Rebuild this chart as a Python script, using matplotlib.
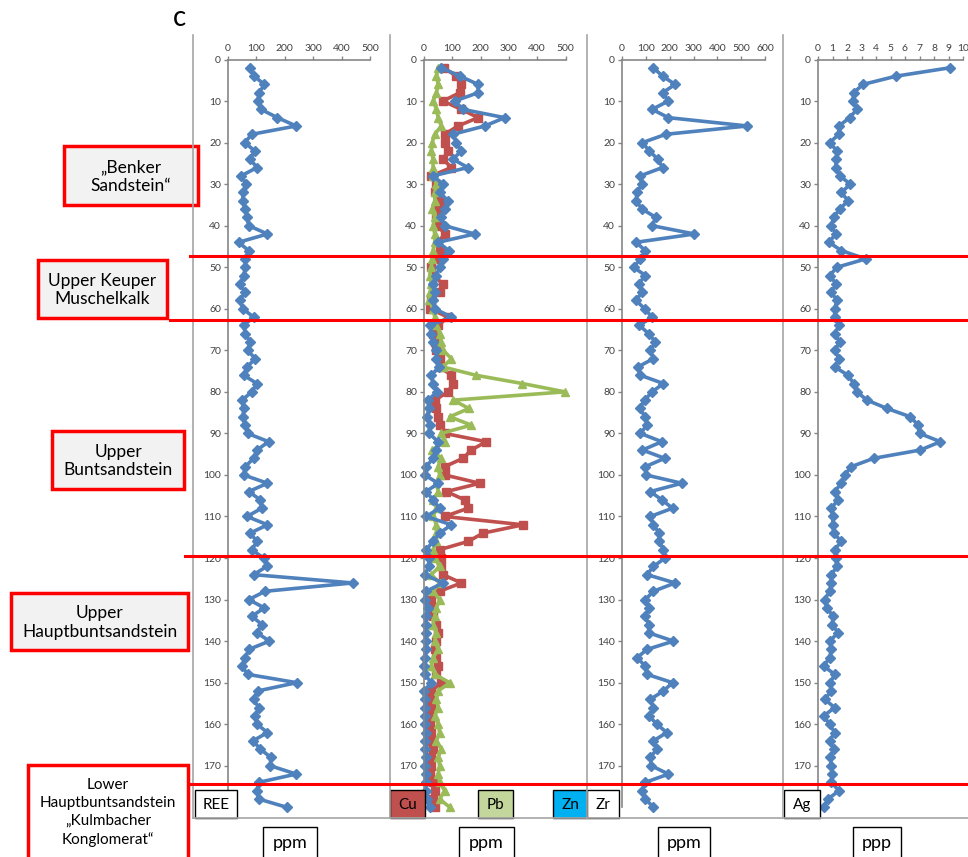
import numpy as np
import matplotlib.pyplot as plt
from matplotlib.patches import Rectangle
from matplotlib.transforms import blended_transform_factory

plt.rcParams['font.family'] = ['Lato', 'DejaVu Sans']

# depth in m, one sample every 2 m
depth = np.arange(2, 182, 2)

ree = [76, 92, 128, 110, 105, 116, 174, 240, 84, 59, 94, 78, 102, 47, 64, 53, 52, 61, 67, 73,
       139, 37, 73, 61, 61, 55, 43, 59, 43, 52, 90, 55, 61, 78, 69, 96, 67, 55, 102, 84,
       49, 55, 53, 61, 69, 143, 102, 90, 61, 55, 139, 73, 114, 119, 67, 139, 78, 102, 84, 125,
       137, 90, 439, 131, 73, 128, 84, 119, 102, 146, 73, 61, 49, 69, 242, 104, 90, 108, 96, 102,
       139, 88, 114, 151, 149, 240, 108, 102, 108, 207]

cu = [70, 114, 132, 126, 67, 132, 191, 120, 73, 73, 85, 67, 97, 26, 44, 38, 55, 50, 44, 50,
      73, 50, 55, 38, 26, 32, 67, 55, 26, 20, 85, 50, 32, 38, 44, 55, 55, 97, 103, 85,
      38, 44, 50, 55, 73, 220, 167, 138, 73, 73, 197, 79, 144, 156, 73, 350, 209, 156, 55, 61,
      61, 67, 132, 55, 26, 26, 32, 44, 50, 44, 38, 44, 50, 44, 61, 26, 20, 26, 20, 20,
      26, 20, 32, 26, 26, 20, 32, 38, 32, 38]

pb = [50, 44, 50, 44, 32, 44, 50, 61, 38, 29, 26, 32, 32, 32, 44, 38, 38, 29, 38, 32,
      38, 38, 32, 29, 26, 20, 26, 22, 18, 32, 38, 44, 55, 61, 67, 97, 67, 183, 348, 498,
      103, 159, 91, 167, 61, 73, 29, 61, 50, 55, 44, 50, 32, 44, 32, 44, 44, 44, 32, 38,
      55, 26, 55, 32, 55, 44, 38, 32, 44, 38, 50, 32, 26, 38, 91, 50, 44, 50, 38, 50,
      55, 44, 61, 50, 55, 50, 55, 73, 55, 91]

zn = [61, 127, 191, 191, 109, 137, 285, 215, 102, 114, 132, 102, 155, 32, 67, 55, 85, 73, 61, 73,
      179, 50, 88, 67, 55, 44, 32, 38, 32, 38, 97, 20, 26, 32, 44, 44, 53, 26, 32, 46,
      14, 18, 11, 20, 18, 50, 44, 32, 8, 2, 50, 8, 32, 55, 8, 97, 55, 32, 8, 18,
      18, 2, 67, 8, 2, 14, 8, 6, 8, 6, 6, 2, 0, 2, 26, 0, 2, 4, 4, 2,
      6, 4, 2, 8, 4, 6, 6, 8, 12, 20]

zr = [132, 170, 223, 170, 195, 126, 195, 526, 184, 86, 114, 151, 170, 77, 84, 63, 59, 84, 142, 126,
      304, 59, 98, 77, 49, 98, 70, 84, 59, 95, 126, 73, 112, 140, 119, 132, 67, 77, 174, 126,
      95, 74, 98, 105, 77, 167, 86, 179, 98, 100, 251, 119, 167, 212, 119, 132, 156, 156, 174, 181,
      132, 105, 223, 132, 98, 112, 98, 112, 112, 216, 105, 63, 98, 105, 212, 174, 119, 132, 114, 146,
      188, 132, 146, 119, 123, 195, 98, 84, 98, 132]

ag = [9.08, 5.4, 3.1, 2.46, 2.41, 2.69, 2.18, 1.45, 1.45, 0.8, 1.31, 1.26, 1.22, 1.5, 2.23, 1.61, 2.07, 1.5, 1.08, 0.92,
      1.22, 0.76, 1.61, 3.29, 1.31, 0.8, 1.26, 0.92, 1.31, 1.15, 1.15, 1.45, 1.15, 1.5, 1.15, 1.45, 1.15, 2.07, 2.46, 2.69,
      3.38, 4.76, 6.37, 6.9, 7.0, 8.44, 7.06, 3.84, 2.3, 1.84, 1.61, 1.15, 1.38, 0.92, 1.03, 1.03, 1.08, 1.61, 1.15, 1.22,
      1.31, 0.92, 0.92, 0.8, 0.46, 0.62, 1.03, 0.99, 1.38, 0.8, 0.92, 0.8, 0.39, 1.15, 0.85, 0.92, 0.46, 1.15, 0.39, 0.8,
      1.15, 0.8, 1.08, 0.85, 0.92, 0.99, 0.92, 1.45, 0.69, 0.39]

# unit boundaries (depth, m)
boundaries = [47.2, 62.6, 119.5, 174.5]

units = ['\u201eBenker\nSandstein\u201c', 'Upper Keuper\nMuschelkalk', 'Upper\nBuntsandstein',
         'Upper\nHauptbuntsandstein',
         'Lower\nHauptbuntsandstein\n\u201eKulmbacher\nKonglomerat\u201c']

BLUE = '#4F81BD'
RED = '#C0504D'
GREEN = '#9BBB59'
GREY = '#868686'

W, H = 968, 857
fig = plt.figure(figsize=(W / 100, H / 100), dpi=100)


def px_axes(x0, y0, w, h):
    return fig.add_axes([x0 / W, 1 - (y0 + h) / H, w / W, h / H])


top, bottom = 59.5, 807.3
panels = [(228, 142, 500, 100), (424, 141.5, 500, 100), (622, 143, 600, 100), (818, 145, 10, 1)]
axes = []
for left, width, xmax, step in panels:
    ax = px_axes(left, top, width, bottom - top)
    ax.set_xlim(0, xmax)
    ax.set_ylim(180, 0)
    ax.patch.set_alpha(0)
    ax.xaxis.tick_top()
    ax.set_xticks(np.arange(0, xmax + step / 2, step))
    ax.set_yticks(np.arange(0, 180, 10))
    for s in ['right', 'bottom']:
        ax.spines[s].set_visible(False)
    for s in ['top', 'left']:
        ax.spines[s].set_color(GREY)
        ax.spines[s].set_linewidth(1.2)
    ax.tick_params(axis='both', colors=GREY, labelcolor='#404040', labelsize=7.5,
                   length=3, width=1, direction='out', pad=2)
    axes.append(ax)

line_kw = dict(lw=2.6, clip_on=False)
axes[0].plot(ree, depth, color=BLUE, marker='D', ms=4.8, **line_kw)
axes[1].plot(cu, depth, color=RED, marker='s', ms=5.5, **line_kw)
axes[1].plot(pb, depth, color=GREEN, marker='^', ms=6, **line_kw)
axes[1].plot(zn, depth, color=BLUE, marker='D', ms=4.8, **line_kw)
axes[2].plot(zr, depth, color=BLUE, marker='D', ms=4.8, **line_kw)
axes[3].plot(ag, depth, color=BLUE, marker='D', ms=4.8, **line_kw)

# overlay in pixel coordinates for frames, labels and boundaries
ov = fig.add_axes([0, 0, 1, 1], zorder=10)
ov.set_xlim(0, W)
ov.set_ylim(H, 0)
ov.axis('off')
ov.patch.set_alpha(0)

for x0 in [193, 390, 587, 783]:
    ov.plot([x0, x0], [35, 818], color='#A6A6A6', lw=1.2)
ov.plot([193, W], [818, 818], color='#A6A6A6', lw=1.2)

tr = blended_transform_factory(ov.transData, axes[0].transData)
for b, x0 in zip(boundaries, [190, 170, 185, 190]):
    ov.plot([x0, W], [b, b], color='#FF0000', lw=2.2, transform=tr, clip_on=False)

ov.text(179, 18, 'c', fontsize=20, ha='center', va='center')

boxes = [(64, 146, 134, 59), (38, 260, 129, 58), (52, 431, 132, 58), (11, 593, 177, 57), (28, 765, 160, 95)]
for (x0, y0, w, h), name in zip(boxes, units):
    small = name.startswith('Lower')
    ov.add_patch(Rectangle((x0, y0), w, h, fc='white' if small else '#F2F2F2', ec='#FF0000', lw=2.5))
    ov.text(x0 + w / 2, y0 + h / 2 + (0 if small else 1), name, ha='center', va='center',
            fontsize=11 if small else 12.5, linespacing=1.38 if small else 1.2)

labels = [('REE', 195, 42, 'white'), ('Cu', 390, 35, RED), ('Pb', 478, 35, '#C3D69B'),
          ('Zn', 553, 34, '#00B0F0'), ('Zr', 587, 32, 'white'), ('Ag', 784, 36, 'white')]
for txt, x0, w, fc in labels:
    ov.add_patch(Rectangle((x0, 790), w, 28, fc=fc, ec='black', lw=1))
    ov.text(x0 + w / 2, 805, txt, ha='center', va='center', fontsize=11)

for txt, x0, w in [('ppm', 263, 54), ('ppm', 459, 55), ('ppm', 658, 52), ('ppp', 853, 48)]:
    ov.add_patch(Rectangle((x0, 827), w, 40, fc='white', ec='black', lw=1, clip_on=False))
    ov.text(x0 + w / 2, 843, txt, ha='center', va='center', fontsize=13)

fig.savefig('out.png', dpi=100)
